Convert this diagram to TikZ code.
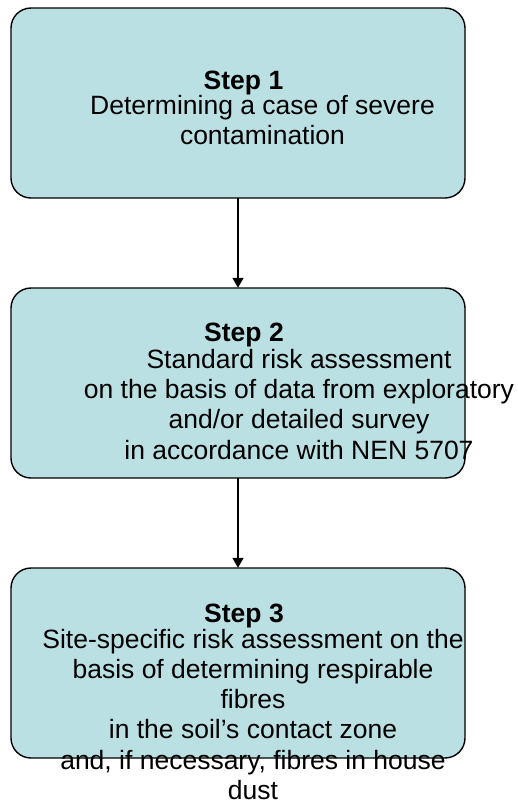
\documentclass[tikz,border=0pt]{standalone}
\usepackage{fontspec}
\setmainfont{Liberation Sans}
\usetikzlibrary{arrows.meta}
\definecolor{boxfill}{RGB}{187,224,228}
\tikzset{
  stepbox/.style={draw=black, line width=1.4pt, fill=boxfill, rounded corners=20pt},
  steptitle/.style={anchor=base, inner sep=0pt, font=\fontsize{26.5}{30.3}\selectfont\bfseries},
  stepbody/.style={anchor=base, inner sep=0pt, font=\fontsize{26.5}{30.3}\selectfont},
  flow/.style={line width=1.6pt, -{Triangle[length=10pt,width=11pt]}}
}
\begin{document}
\begin{tikzpicture}[x=1pt,y=-1pt]
\useasboundingbox (0,0) rectangle (518,804);
% boxes
\draw[stepbox] (11,8) rectangle (465,198);
\node[inner sep=0pt, minimum width=454pt, minimum height=190pt] (b1) at (238,103) {};
\draw[stepbox] (11,288) rectangle (465,478);
\node[inner sep=0pt, minimum width=454pt, minimum height=190pt] (b2) at (238,383) {};
\draw[stepbox] (11,568) rectangle (465,758);
\node[inner sep=0pt, minimum width=454pt, minimum height=190pt] (b3) at (238,663) {};
% connectors
\draw[flow] (b1.south) -- (b2.north);
\draw[flow] (b2.south) -- (b3.north);
% texts
\node[steptitle] (t1) at (243.5,89) {Step 1};
\node[stepbody] (d1) at (262.5,114.5) {\begin{tabular}[t]{@{}c@{}}Determining a case of severe\\contamination\end{tabular}};
\node[steptitle] (t2) at (244,341.7) {Step 2};
\node[stepbody] (d2) at (299,368.3) {\begin{tabular}[t]{@{}c@{}}Standard risk assessment\\on the basis of data from exploratory\\and/or detailed survey\\in accordance with NEN 5707\end{tabular}};
\node[steptitle] (t3) at (244,622) {Step 3};
\node[stepbody] (d3) at (253,648) {\begin{tabular}[t]{@{}c@{}}Site-specific risk assessment on the\\basis of determining respirable\\fibres\\in the soil’s contact zone\\and, if necessary, fibres in house\\dust\end{tabular}};
\end{tikzpicture}
\end{document}
